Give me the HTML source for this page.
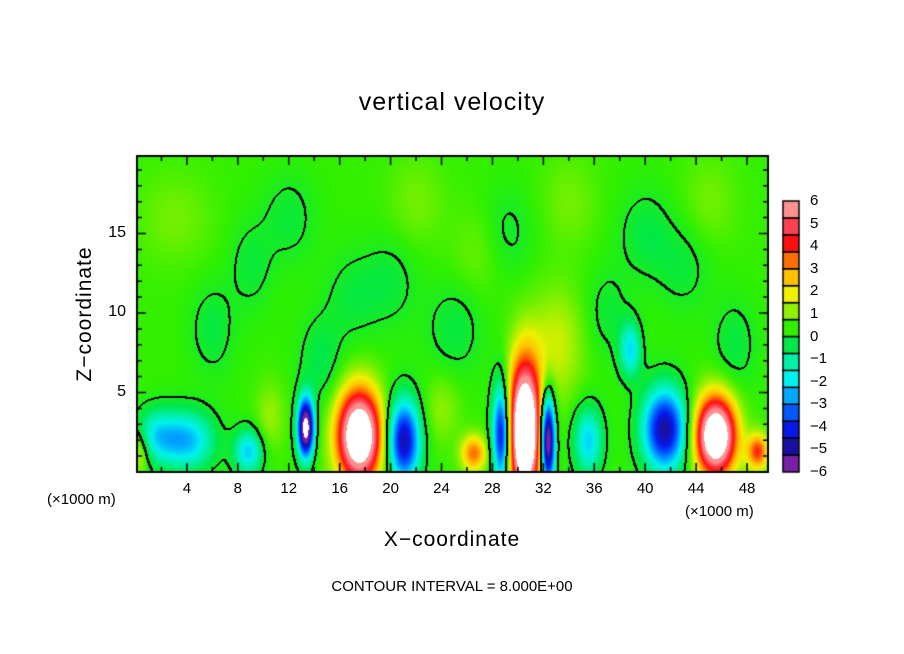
<!DOCTYPE html>
<html><head><meta charset="utf-8"><style>
body{margin:0;background:#fff;width:904px;height:654px;overflow:hidden;position:relative;font-family:"Liberation Sans",sans-serif}
.t{position:absolute;white-space:nowrap;color:#000}
canvas{position:absolute}
</style></head><body>
<div class="t" style="left:0;width:904px;text-align:center;top:88px;font-size:25px;letter-spacing:1px">vertical velocity</div>
<canvas id="cv" width="904" height="654" style="left:0;top:0"></canvas>
<div class="t" style="left:85px;top:314px;font-size:21px;transform:translate(-50%,-50%) rotate(-90deg);letter-spacing:1px">Z−coordinate</div>
<div class="t" style="left:0;width:904px;text-align:center;top:528px;font-size:21px;letter-spacing:1px">X−coordinate</div>
<div class="t" style="left:47px;top:491px;font-size:15px">(×1000 m)</div>
<div class="t" style="left:685px;top:503px;font-size:15px">(×1000 m)</div>
<div class="t" style="left:0;width:904px;text-align:center;top:578px;font-size:15px">CONTOUR INTERVAL = 8.000E+00</div>
<div id="labels"></div>
<script>
const xTicks=[4,8,12,16,20,24,28,32,36,40,44,48];
const zTicks=[5,10,15];
const cbLabels=[6,5,4,3,2,1,0,-1,-2,-3,-4,-5,-6];
const cbColors=["#7a20a8","#1a10a0","#0818e8","#0058ff","#00a8ff","#00f0f0","#00f0a8","#00e848","#30f000","#90f000","#f0f000","#ffc000","#ff7000","#ff1010","#ff4050","#ff9090"];
// blob data: x (km), z (km), amplitude, sx, sz
const blobX=[17.5,13.3,21,8.8,4,1.5,28.7,30.5,32.3,26.5,35.5,41.5,45.5,48.8,38.8,33,0.2,10.5,24,14.5,6,20,27,37,43,47,3,12,22,29,34,40,45,9,17,25];
const blobZ=[2.3,2.8,2,1.3,2,2.3,2.4,2.6,2.0,1.2,2.0,2.7,2.3,1.3,7.7,8,1.3,3.5,4,7,9,12,14,10,13,8,16,16,17,15,17,15,17,13,11,9];
const blobA=[8.5,-7.5,-5.2,-2.6,-2.8,-2,-5.5,9.5,-7.5,3,-2.6,-5.3,8.5,3.5,-2.4,1.2,1.6,0.8,0.7,-0.8,-0.7,-0.6,0.5,-0.6,-0.6,-0.7,0.5,-0.6,0.5,-0.6,0.5,-0.7,0.5,-0.6,-0.6,-0.7];
const blobSX=[1.2,0.45,0.9,0.8,1.5,1.2,0.5,0.9,0.4,0.7,0.8,1.2,1.1,0.6,0.6,1.5,0.6,0.8,1,1.2,1.2,1.5,1.5,1.2,1.5,1.2,2,1.5,1.5,1.5,1.5,1.5,1.5,1.2,1.5,1.5];
const blobSZ=[2,1.3,1.8,1,1.3,1.2,2.2,3,2,0.8,1.5,1.8,1.7,0.8,1.2,2.5,1,1.5,1.5,2,2,2,2,2,2,2,2,2,2,2,2,2,2,2,2,2];
const base=0.4;
const X0=136,PX=12.73,Y0=472,PZ=15.9,L=137,R=768,T=156,B=472;
const cv=document.getElementById('cv'),ctx=cv.getContext('2d');
function field(x,z){let v=base;for(let i=0;i<blobX.length;i++){const dx=(x-blobX[i])/blobSX[i],dz=(z-blobZ[i])/blobSZ[i];v+=blobA[i]*Math.exp(-0.5*(dx*dx+dz*dz));}return v;}
function hex(c){return [parseInt(c.substr(1,2),16),parseInt(c.substr(3,2),16),parseInt(c.substr(5,2),16)];}
const rgb=cbColors.map(hex);
function colorOf(v){if(v>6.3||v<-6.3)return [255,255,255];
 let p=(v+6)/0.75-0.5;p=Math.max(0,Math.min(15,p));const a=Math.floor(p),b=Math.min(15,a+1),f=p-a;
 return [0,1,2].map(k=>Math.round(rgb[a][k]*(1-f)+rgb[b][k]*f));}
const W=R-L,H=B-T,img=ctx.createImageData(W,H),vals=new Float32Array(W*H);
for(let j=0;j<H;j++)for(let i=0;i<W;i++){vals[j*W+i]=field((L+i-X0)/PX,(Y0-(T+j))/PZ);}
for(let j=0;j<H;j++)for(let i=0;i<W;i++){const v=vals[j*W+i];let c=colorOf(v);
 const s=v>0, r=i+1<W&&((vals[j*W+i+1]>0)!==s), d=j+1<H&&((vals[(j+1)*W+i]>0)!==s),
 r2=i+2<W&&((vals[j*W+i+2]>0)!==s), d2=j+2<H&&((vals[(j+2)*W+i]>0)!==s);
 if(r||d||r2||d2)c=[0,0,0];
 const k=(j*W+i)*4;img.data[k]=c[0];img.data[k+1]=c[1];img.data[k+2]=c[2];img.data[k+3]=255;}
ctx.putImageData(img,L,T);
ctx.strokeStyle='#000';ctx.lineWidth=2;ctx.strokeRect(L,T,W,H);
ctx.lineWidth=1.5;
for(let x=2;x<50;x+=2){const px=X0+x*PX,len=x%4===0?9:5;ctx.beginPath();ctx.moveTo(px,B);ctx.lineTo(px,B-len);ctx.moveTo(px,T);ctx.lineTo(px,T+len);ctx.stroke();}
for(let z=1;z<20;z++){const py=Y0-z*PZ,len=z%5===0?9:5;ctx.beginPath();ctx.moveTo(L,py);ctx.lineTo(L+len,py);ctx.moveTo(R,py);ctx.lineTo(R-len,py);ctx.stroke();}
// colorbar
const cbX=783,cbT=201,cbB=472,bh=(cbB-cbT)/cbColors.length;
for(let i=0;i<cbColors.length;i++){ctx.fillStyle=cbColors[i];ctx.fillRect(cbX,cbB-(i+1)*bh,16,bh);ctx.strokeStyle='#000';ctx.lineWidth=1.5;ctx.strokeRect(cbX,cbB-(i+1)*bh,16,bh);}
const lab=document.getElementById('labels');
function addLabel(txt,x,y,name,align,fs){const d=document.createElement('div');d.className='t';d.textContent=txt;d.style.fontSize=fs+'px';d.style.top=(y-fs*0.6)+'px';
 if(align==='c'){d.style.left=(x-30)+'px';d.style.width='60px';d.style.textAlign='center';}else if(align==='r'){d.style.left=(x-60)+'px';d.style.width='60px';d.style.textAlign='right';}else d.style.left=x+'px';
 
 
 lab.appendChild(d);}
xTicks.forEach(x=>addLabel(String(x),X0+x*PX,489,'x-tick-label','c',15));
zTicks.forEach(z=>addLabel(String(z),126,Y0-z*PZ,'y-tick-label','r',16));
cbLabels.forEach((v,i)=>addLabel(String(v).replace('-','−'),810,cbT+i*(cbB-cbT)/12,'colorbar-label','l',15));
</script>
</body></html>
